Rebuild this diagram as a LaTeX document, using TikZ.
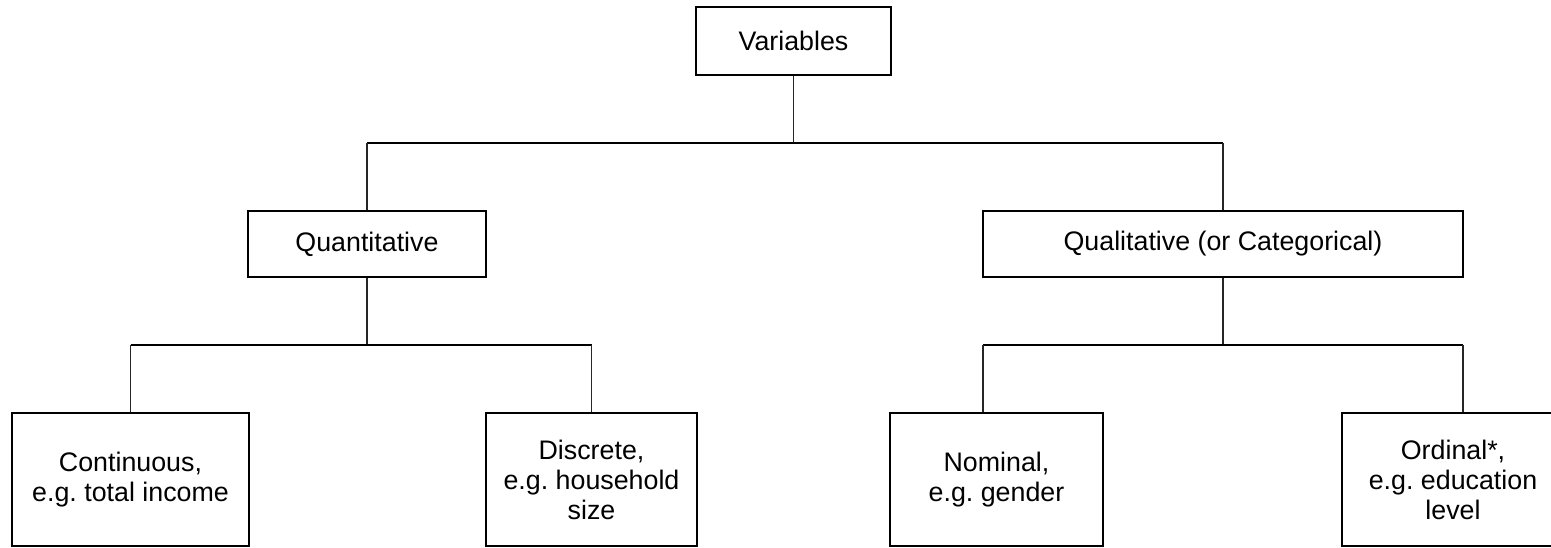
\documentclass[tikz,border=0pt]{standalone}
\usepackage{fontspec}
\setmainfont{Liberation Sans}
\begin{document}
\begin{tikzpicture}[x=1pt,y=-1pt,
  box/.style={draw=black, line width=1.6pt, align=center, inner sep=0pt,
    font=\fontsize{26.8}{30}\selectfont},
  hline/.style={draw=black, line width=1.6pt},
  vline/.style={draw=black!85, line width=1.3pt}]
\useasboundingbox (0,0) rectangle (1551,547);
\clip (0,0) rectangle (1551,547);
\node[box, minimum width=195pt, minimum height=68pt] (var) at (793.5,41) {Variables};
\node[box, minimum width=238pt, minimum height=66pt] (quan) at (367,244) {Quantitative};
\node[box, minimum width=480pt, minimum height=66pt] (qual) at (1223,244) {Qualitative (or Categorical)};
\node[box, minimum width=237pt, minimum height=133pt] (cont) at (130.5,479.5) {Continuous,\\e.g.\ total income};
\node[box, minimum width=211pt, minimum height=133pt] (disc) at (591.5,479.5) {Discrete,\\e.g.\ household\\size};
\node[box, minimum width=213pt, minimum height=133pt] (nom) at (996.5,479.5) {Nominal,\\e.g.\ gender};
\node[box, minimum width=222pt, minimum height=133pt] (ord) at (1453,479.5) {Ordinal*,\\e.g.\ education\\level};
% junction coordinates
\coordinate (j0) at (793.5,143);
\coordinate (j0l) at (367,143);
\coordinate (j0r) at (1223,143);
\coordinate (j1) at (367,345);
\coordinate (j1l) at (130.5,345);
\coordinate (j1r) at (591.5,345);
\coordinate (j2) at (1223,345);
\coordinate (j2l) at (983,345);
\coordinate (j2r) at (1463,345);
% connectors
\draw[vline] (var.south) -- (j0);
\draw[hline] (j0l) -- (j0r);
\draw[vline] (j0l) -- (quan.north);
\draw[vline] (j0r) -- (qual.north);
\draw[vline] (quan.south) -- (j1);
\draw[hline] (j1l) -- (j1r);
\draw[vline] (j1l) -- (cont.north);
\draw[vline] (j1r) -- (disc.north);
\draw[vline] (qual.south) -- (j2);
\draw[hline] (j2l) -- (j2r);
\draw[vline] (j2l) -- (j2l |- nom.north);
\draw[vline] (j2r) -- (j2r |- ord.north);
\end{tikzpicture}
\end{document}
